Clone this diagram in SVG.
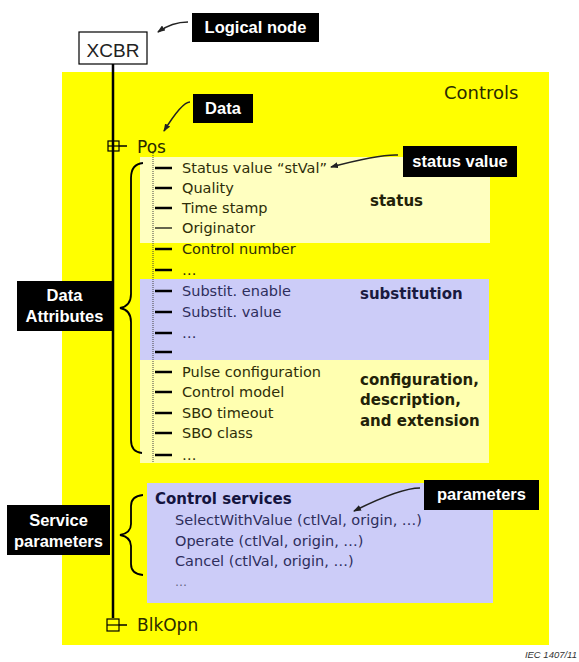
<svg xmlns="http://www.w3.org/2000/svg" width="579" height="662" viewBox="0 0 579 662">
<style>
.item{font-family:"DejaVu Sans",Verdana,sans-serif;font-size:14.5px;fill:#2e2e08}
.itemb{font-family:"DejaVu Sans",Verdana,sans-serif;font-size:14.5px;fill:#2e2e5c}
.grp{font-family:"DejaVu Sans",Verdana,sans-serif;font-size:15px;font-weight:bold;fill:#222208}
.lbl{font-family:"Liberation Sans",Arial,sans-serif;font-size:16.5px;font-weight:bold;fill:#fff;text-anchor:middle}
.tick{stroke:#000;stroke-width:2.5}
.arr{fill:none;stroke:#222;stroke-width:1.6}
.brace{fill:none;stroke:#000;stroke-width:1.8}
</style>
<defs>
<marker id="ah" markerWidth="8" markerHeight="6" refX="7" refY="3" orient="auto" markerUnits="userSpaceOnUse">
<path d="M0,0 L8,3 L0,6 Z" fill="#222"/>
</marker>
</defs>
<rect width="579" height="662" fill="#fff"/>
<g id="controls">
<rect x="62" y="72" width="487" height="573" fill="#ffff00"/>
<text x="444" y="99" font-family="DejaVu Sans,Verdana,sans-serif" font-size="18" fill="#2a2a00">Controls</text>
</g>
<g id="regions">
<rect x="140" y="157" width="350" height="86" fill="#ffffc0"/>
<rect x="140" y="279" width="349" height="81" fill="#ccccf8"/>
<rect x="140" y="360" width="349" height="103" fill="#ffffb0"/>
<rect x="147" y="483" width="346" height="120" fill="#ccccf8"/>
</g>
<g id="connectors">
<line x1="113" y1="64" x2="113" y2="618" stroke="#000" stroke-width="2.5"/>
<line x1="153" y1="151" x2="153" y2="462" stroke="#444" stroke-width="1" stroke-dasharray="1,1"/>
<line x1="119" y1="146" x2="127" y2="146" stroke="#000" stroke-width="1.5"/>
<line x1="119" y1="625" x2="127" y2="625" stroke="#000" stroke-width="1.5"/>
<g class="tick">
<line x1="155" y1="168" x2="172" y2="168"/>
<line x1="155" y1="188" x2="172" y2="188"/>
<line x1="155" y1="208" x2="172" y2="208"/>
<line x1="155" y1="228" x2="172" y2="228" stroke-width="1.2"/>
<line x1="155" y1="249" x2="172" y2="249"/>
<line x1="155" y1="270" x2="172" y2="270"/>
<line x1="155" y1="291" x2="172" y2="291"/>
<line x1="155" y1="312" x2="172" y2="312"/>
<line x1="155" y1="333" x2="172" y2="333"/>
<line x1="155" y1="352" x2="172" y2="352"/>
<line x1="155" y1="372" x2="172" y2="372"/>
<line x1="155" y1="392" x2="172" y2="392"/>
<line x1="155" y1="413" x2="172" y2="413"/>
<line x1="155" y1="433" x2="172" y2="433"/>
<line x1="155" y1="455" x2="172" y2="455"/>
</g>
<path class="brace" d="M143,163 Q131,164 131,178 L131,294 Q131,306 120,308 Q131,310 131,322 L131,440 Q131,452 142,453"/>
<path class="brace" d="M143,495 Q131,496 131,506 L131,524 Q131,533 120,535 Q131,537 131,546 L131,564 Q131,574 143,575"/>
<path class="arr" marker-end="url(#ah)" d="M188,22 Q172,22 158,32"/>
<path class="arr" marker-end="url(#ah)" d="M190,102 Q182,102 164,131"/>
<path class="arr" marker-end="url(#ah)" d="M398,155 Q380,154 331,167"/>
<path class="arr" marker-end="url(#ah)" d="M420,488 Q400,488 354,511"/>
</g>
<g id="xcbr">
<rect x="79" y="32" width="68" height="32" fill="#fff" stroke="#000" stroke-width="1.2"/>
<text x="113" y="57" font-family="Liberation Sans,Arial,sans-serif" font-size="19" fill="#222" text-anchor="middle">XCBR</text>
</g>
<g id="logical-node">
<rect x="192" y="13" width="127" height="29" fill="#000"/>
<text class="lbl" x="255.5" y="33">Logical node</text>
</g>
<g id="data">
<rect x="193" y="94" width="60" height="29" fill="#000"/>
<text class="lbl" x="223" y="114">Data</text>
</g>
<g id="pos">
<rect x="108" y="141" width="11" height="10" fill="none" stroke="#000" stroke-width="1.2"/>
<line x1="108" y1="146" x2="119" y2="146" stroke="#000" stroke-width="1.2"/>
<text x="137" y="153" font-family="DejaVu Sans,Verdana,sans-serif" font-size="17" fill="#2a2a00">Pos</text>
</g>
<g id="blkopn">
<rect x="107" y="619" width="12" height="12" fill="none" stroke="#000" stroke-width="1.2"/>
<line x1="107" y1="625" x2="119" y2="625" stroke="#000" stroke-width="1.2"/>
<text x="137" y="631" font-family="DejaVu Sans,Verdana,sans-serif" font-size="17" fill="#2a2a00">BlkOpn</text>
</g>
<g id="status-attrs">
<text class="item" x="182" y="173">Status value “stVal”</text>
<text class="item" x="182" y="193">Quality</text>
<text class="item" x="182" y="213">Time stamp</text>
<text class="item" x="182" y="233">Originator</text>
<text class="item" x="182" y="254">Control number</text>
<text class="item" x="182" y="275">…</text>
<text class="grp" x="370" y="206">status</text>
</g>
<g id="substitution-attrs">
<text class="itemb" x="182" y="296">Substit. enable</text>
<text class="itemb" x="182" y="317">Substit. value</text>
<text class="itemb" x="182" y="338">…</text>
<text class="grp" x="360" y="299" style="fill:#1a1a40">substitution</text>
</g>
<g id="config-attrs">
<text class="item" x="182" y="377">Pulse configuration</text>
<text class="item" x="182" y="397">Control model</text>
<text class="item" x="182" y="418">SBO timeout</text>
<text class="item" x="182" y="438">SBO class</text>
<text class="item" x="182" y="460">…</text>
<text class="grp" x="360" y="385">configuration,</text>
<text class="grp" x="360" y="405">description,</text>
<text class="grp" x="360" y="426">and extension</text>
</g>
<g id="status-value">
<rect x="403" y="146" width="114" height="31" fill="#000"/>
<text class="lbl" x="460" y="167">status value</text>
</g>
<g id="data-attributes">
<rect x="17" y="281" width="95" height="50" fill="#000"/>
<text class="lbl" x="64.5" y="301">Data</text>
<text class="lbl" x="64.5" y="322">Attributes</text>
</g>
<g id="control-services">
<text class="grp" x="155" y="504" style="fill:#14143f">Control services</text>
<text class="itemb" x="175" y="525">SelectWithValue (ctlVal, origin, …)</text>
<text class="itemb" x="175" y="546">Operate (ctlVal, origin, …)</text>
<text class="itemb" x="175" y="566">Cancel (ctlVal, origin, …)</text>
<text class="itemb" x="175" y="586" style="font-size:12px;fill:#666680">…</text>
</g>
<g id="service-parameters">
<rect x="7" y="505" width="103" height="50" fill="#000"/>
<text class="lbl" x="58.5" y="526">Service</text>
<text class="lbl" x="58.5" y="547">parameters</text>
</g>
<g id="parameters">
<rect x="424" y="480" width="115" height="30" fill="#000"/>
<text class="lbl" x="481.5" y="500">parameters</text>
</g>
<text x="577" y="658" font-family="Liberation Sans,Arial,sans-serif" font-size="9.5" font-style="italic" fill="#333" text-anchor="end">IEC   1407/11</text>
</svg>
